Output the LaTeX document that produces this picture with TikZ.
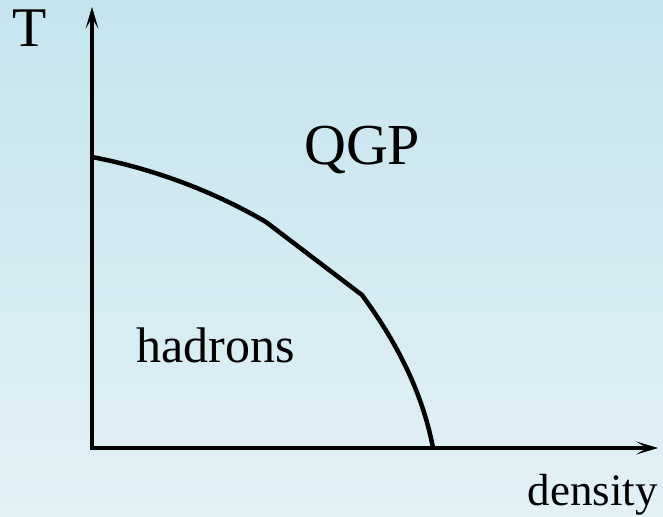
\documentclass[tikz,border=0pt]{standalone}
\usepackage{fontspec}
\setmainfont{Liberation Serif}
\usetikzlibrary{arrows.meta}
\definecolor{bgtop}{RGB}{197,228,238}
\definecolor{bgbot}{RGB}{226,241,246}
\tikzset{
  axisline/.style={line width=4.8pt, -{Stealth[length=22pt,width=13pt,inset=11pt,line width=0.8pt]}},
  boundary/.style={line width=4.5pt, line join=round},
  lbl/.style={inner sep=0pt, text=black}
}
\begin{document}
\begin{tikzpicture}[x=1pt,y=-1pt]
\shade[top color=bgtop, bottom color=bgbot] (0,0) rectangle (663,516);
\useasboundingbox (0,0) rectangle (663,516);
\coordinate (O) at (92,448);
\coordinate (ytop) at (92,7);
\coordinate (xend) at (658,448);
\coordinate (c0) at (92,157);
\coordinate (c1) at (266,222);
\coordinate (c2) at (362,295);
\coordinate (c3) at (433,448);
\draw[axisline] (O) -- (ytop);
\draw[axisline] ([xshift=-2.4pt]O) -- (xend);
\draw[boundary] (c0) .. controls (160,170) and (220,195) .. (c1) -- (c2) .. controls (395,340) and (422,390) .. (c3);
\node[lbl, anchor=base west, font=\fontsize{56}{60}\selectfont] (T) at (12,47) {T};
\node[lbl, anchor=base west, font=\fontsize{58}{60}\selectfont] (qgp) at (304,164) {QGP};
\node[lbl, anchor=base west, font=\fontsize{50}{60}\selectfont] (had) at (136,362) {hadrons};
\node[lbl, anchor=base east, font=\fontsize{45}{60}\selectfont] (dens) at (658,505) {density};
\end{tikzpicture}
\end{document}
